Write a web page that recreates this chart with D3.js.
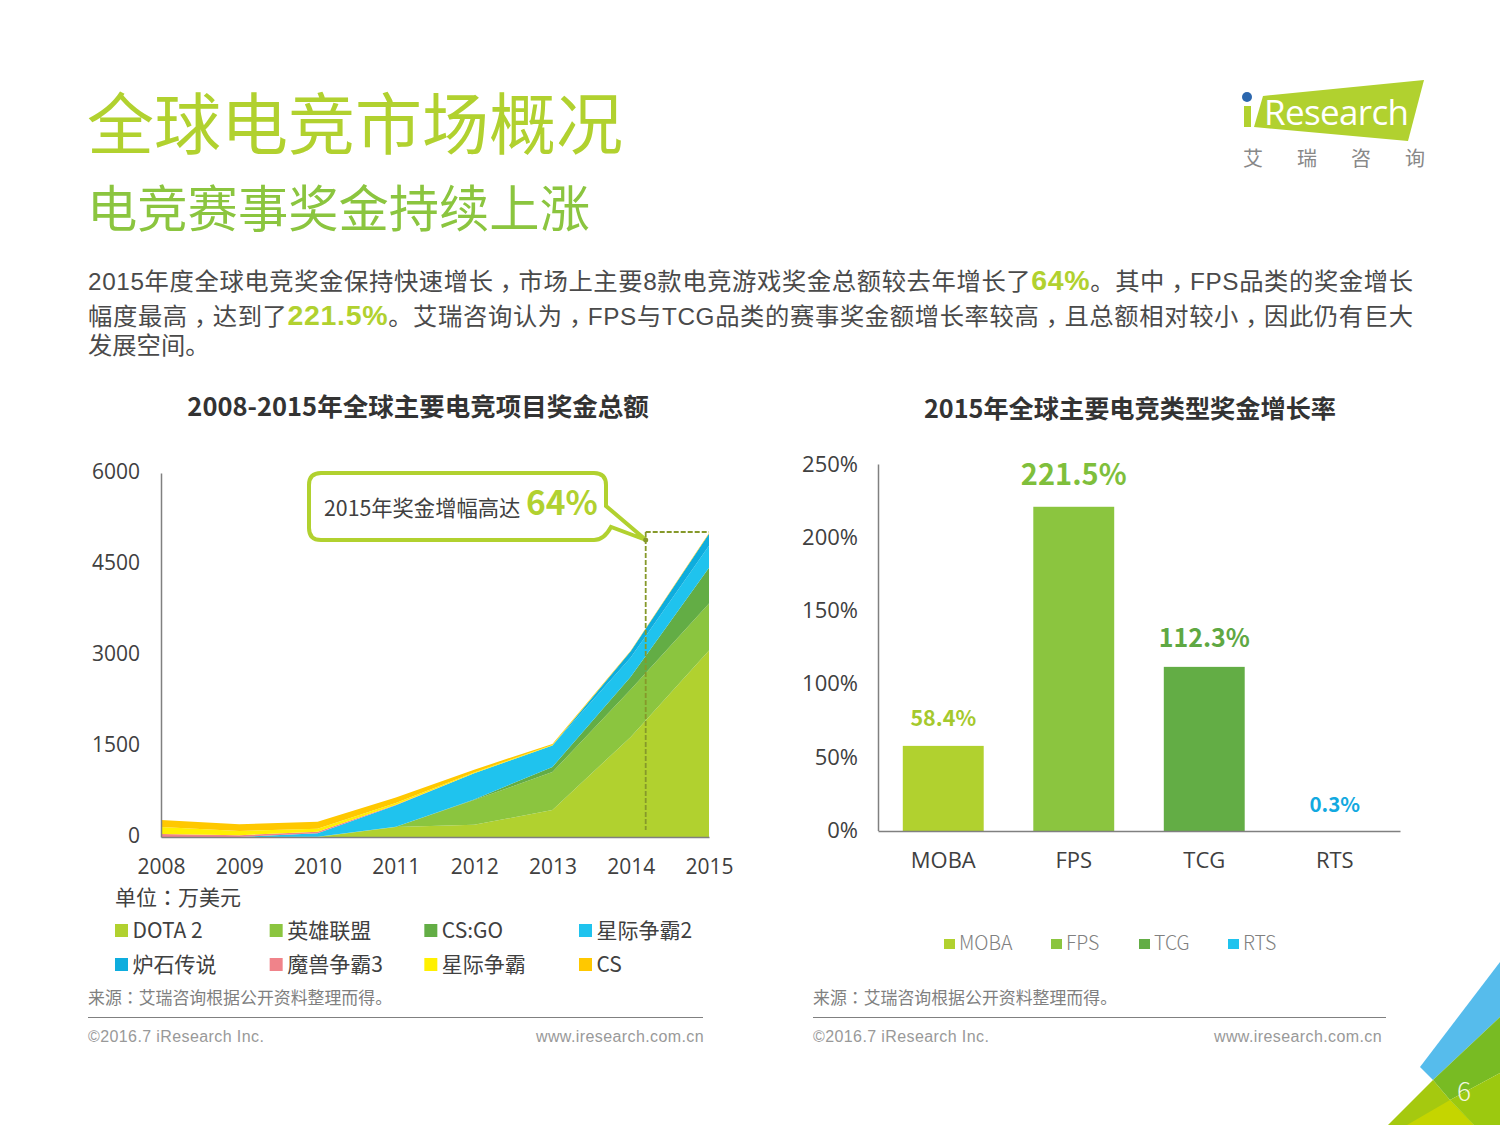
<!DOCTYPE html>
<html lang="zh-CN">
<head>
<meta charset="utf-8">
<script src="https://cdnjs.cloudflare.com/ajax/libs/d3/7.8.5/d3.min.js"></script>
<style>
  html, body { margin: 0; padding: 0; background: #fff; }
  svg { display: block; }
  text { font-family: "Noto Sans CJK SC", "Noto Sans", sans-serif; }
  .latin text, text.latin { font-family: "Open Sans", "Noto Sans CJK SC", sans-serif; }
  text.arial, .arial text { font-family: "Liberation Sans", "Noto Sans CJK SC", sans-serif; }
  tspan.punct { font-family: "Noto Sans CJK TC", sans-serif; font-feature-settings: "locl" 0; }
</style>
</head>
<body>
<script>
// left chart: prize money, 10k USD
const years = [2008, 2009, 2010, 2011, 2012, 2013, 2014, 2015];
const seriesNames = ["DOTA 2", "英雄联盟", "CS:GO", "星际争霸2", "炉石传说", "魔兽争霸3", "星际争霸", "CS"];
const seriesColors = ["#b1d12f", "#8bc53f", "#63ad45", "#1fc3ee", "#0eadde", "#f0838a", "#fff000", "#ffc800"];
const dota2 = [0, 0, 0, 165, 200, 445, 1650, 3075];
const lol = [0, 0, 5, 5, 410, 625, 780, 775];
const csgo = [0, 0, 0, 0, 10, 85, 210, 590];
const sc2 = [0, 0, 55, 355, 430, 355, 320, 360];
const hearthstone = [0, 0, 0, 0, 0, 0, 100, 200];
const wc3 = [50, 30, 25, 5, 0, 0, 0, 0];
const sc = [115, 70, 50, 30, 15, 5, 0, 0];
const cs = [115, 110, 115, 90, 45, 20, 10, 10];
const yTicks = [0, 1500, 3000, 4500, 6000];

// right chart: growth rate by genre
const genres = ["MOBA", "FPS", "TCG", "RTS"];
const growth = [58.4, 221.5, 112.3, 0.3];
const growthLabels = ["58.4%", "221.5%", "112.3%", "0.3%"];
const genreColors = ["#b1d12f", "#8bc53f", "#63ad45", "#1fc3ee"];
const labelColors = ["#a5c92d", "#7fbf3c", "#5fa843", "#12a9e0"];
const growthTicks = [0, 50, 100, 150, 200, 250];

const w = 1500;
const h = 1125;
const green = "#b1d12f";

const svg = d3.select("body").append("svg").attr("width", w).attr("height", h);

function label(x, y, str, size, color, weight, anchor) {
  return svg.append("text")
    .attr("x", x).attr("y", y)
    .attr("font-size", size)
    .attr("fill", color)
    .attr("font-weight", weight || 400)
    .attr("text-anchor", anchor || "start")
    .text(str);
}

// fills a text with tspans, centred comma and colon come from the TC font
// the comma sits a bit lower than the TC glyph, so it is nudged down and back
function punctuate(sel, str) {
  let back = false;
  str.split(/([，：])/).forEach(function (s) {
    if (s === "") return;
    const t = sel.append("tspan").text(s);
    if (back) { t.attr("dy", "-0.3em"); back = false; }
    if (s === "，" || s === "：") t.attr("class", "punct").attr("lang", "zh-TW");
    if (s === "，") { t.attr("dy", "0.3em"); back = true; }
  });
}

// corner decoration, behind everything
svg.append("polygon").attr("points", "1388,1125 1433,1080 1450,1100 1474,1125").attr("fill", "#a5c90f");
svg.append("polygon").attr("points", "1407,1125 1450,1100 1474,1125").attr("fill", "#c5d500");
svg.append("polygon").attr("points", "1420,1067 1500,962 1500,1017 1433,1080").attr("fill", "#56bcec");
svg.append("polygon").attr("points", "1433,1080 1500,1017 1500,1073 1450,1100").attr("fill", "#78bb23");
svg.append("polygon").attr("points", "1450,1100 1500,1073 1500,1125 1474,1125").attr("fill", "#9cc90f");
label(1464, 1101, "6", 26, "#f4f8e0", 300, "middle");

// header
label(87, 149, "全球电竞市场概况", 67, green, 400);
label(87, 227, "电竞赛事奖金持续上涨", 50.3, "#8bc53f", 400);

// logo
svg.append("polygon").attr("points", "1263,96 1424,80 1408,141 1254,127").attr("fill", green);
svg.append("circle").attr("cx", 1247).attr("cy", 97).attr("r", 5).attr("fill", "#2c67ae");
svg.append("polygon").attr("points", "1244,106 1251,106 1251,127 1244,127").attr("fill", green);
svg.append("text").attr("class", "latin").attr("x", 1264).attr("y", 125)
  .attr("font-size", 35).attr("fill", "#fff").attr("textLength", 145).text("Research");
["艾", "瑞", "咨", "询"].forEach(function (c, i) {
  label(1253 + i * 54, 166, c, 20, "#888", 400, "middle");
});

// intro paragraph
const bodyColor = "#4a4a4a";
function bodyLine(y, parts, width) {
  const t = svg.append("text").attr("class", "arial").attr("x", 88).attr("y", y).attr("font-size", 24.3).attr("fill", bodyColor);
  parts.forEach(function (p) {
    if (p.hi) {
      t.append("tspan").text(p.s).attr("fill", green).attr("font-size", 28.5).attr("font-weight", 700);
    } else {
      punctuate(t, p.s);
    }
  });
  if (width) t.attr("textLength", width);
}
bodyLine(290, [{ s: "2015年度全球电竞奖金保持快速增长，市场上主要8款电竞游戏奖金总额较去年增长了" }, { s: "64%", hi: true }, { s: "。其中，FPS品类的奖金增长" }], 1325);
bodyLine(325, [{ s: "幅度最高，达到了" }, { s: "221.5%", hi: true }, { s: "。艾瑞咨询认为，FPS与TCG品类的赛事奖金额增长率较高，且总额相对较小，因此仍有巨大" }], 1325);
bodyLine(354, [{ s: "发展空间。" }]);

// chart titles
label(418, 416, "2008-2015年全球主要电竞项目奖金总额", 25.5, "#333", 700, "middle");
label(1130, 418, "2015年全球主要电竞类型奖金增长率", 25.2, "#333", 700, "middle");

// left area chart
const xScale = d3.scaleLinear().domain([2008, 2015]).range([161, 709]);
const yScale = d3.scaleLinear().domain([0, 6000]).range([837, 473]);

const rows = years.map(function (yr, i) {
  return {
    year: yr,
    "DOTA 2": dota2[i], "英雄联盟": lol[i], "CS:GO": csgo[i], "星际争霸2": sc2[i],
    "炉石传说": hearthstone[i], "魔兽争霸3": wc3[i], "星际争霸": sc[i], "CS": cs[i]
  };
});
const stacked = d3.stack().keys(seriesNames)(rows);
const area = d3.area()
  .x(function (d) { return xScale(d.data.year); })
  .y0(function (d) { return yScale(d[0]); })
  .y1(function (d) { return yScale(d[1]); });

svg.append("g").selectAll("path")
  .data(stacked)
  .enter()
  .append("path")
  .attr("d", area)
  .attr("fill", function (d, i) { return seriesColors[i]; });

const xAxis = d3.axisBottom(xScale).tickValues(years).tickFormat(d3.format("d")).tickSize(0).tickPadding(22);
const yAxis = d3.axisLeft(yScale).tickValues(yTicks).tickFormat(d3.format("d")).tickSize(0).tickPadding(21);
const gx = svg.append("g").attr("class", "latin").attr("transform", "translate(0,837)").call(xAxis);
const gy = svg.append("g").attr("class", "latin").attr("transform", "translate(161,-1.5)").call(yAxis);
[gx, gy].forEach(function (g) {
  g.selectAll("text").attr("font-size", 21).attr("fill", "#404040");
  g.select(".domain").attr("stroke", "#808080").attr("stroke-width", 1.5);
});
gy.select(".domain").attr("transform", "translate(0,1.5)");

// callout and dashed marker
const markX = 645.7;
svg.append("path")
  .attr("d", "M" + markX + ",532V830M" + markX + ",532H" + xScale(2015))
  .attr("fill", "none").attr("stroke", "#86992a").attr("stroke-width", 1.8).attr("stroke-dasharray", "5,2");
svg.append("path")
  .attr("d", "M321,473H594Q606,473 606,485V506L646,540L611,527Q604,540 594,540H321Q309,540 309,528V485Q309,473 321,473Z")
  .attr("fill", "#fff").attr("stroke", green).attr("stroke-width", 4);
svg.append("circle").attr("cx", markX).attr("cy", 540).attr("r", 2.5).attr("fill", "#86992a");
label(324, 516, "2015年奖金增幅高达", 21.3, "#404040", 400);
label(526, 515, "64%", 33.5, green, 700);

// left legend
const unitLabel = label(115, 905, "", 21, "#404040", 400);
punctuate(unitLabel, "单位：万美元");
const legendX = d3.scalePoint().domain([0, 1, 2, 3]).range([115, 579]);
const legendY = d3.scalePoint().domain([0, 1]).range([930, 964]);
const leftLegend = svg.append("g").selectAll("g")
  .data(seriesNames)
  .enter()
  .append("g")
  .attr("transform", function (d, i) { return "translate(" + legendX(i % 4) + "," + legendY(Math.floor(i / 4)) + ")"; });
leftLegend.append("rect").attr("x", 0).attr("y", -6).attr("width", 13).attr("height", 13)
  .attr("fill", function (d, i) { return seriesColors[i]; });
leftLegend.append("text").attr("x", 17.5).attr("y", 8).attr("font-size", 21).attr("fill", "#404040")
  .text(function (d) { return d; });

// right bar chart
const xBand = d3.scaleBand().domain(genres).range([878, 1400]).paddingInner(0.38).paddingOuter(0.19);
const yGrowth = d3.scaleLinear().domain([0, 250]).range([831.5, 465]);

svg.append("g").selectAll("rect")
  .data(growth)
  .enter()
  .append("rect")
  .attr("x", function (d, i) { return xBand(genres[i]); })
  .attr("y", function (d) { return yGrowth(d); })
  .attr("width", xBand.bandwidth())
  .attr("height", function (d) { return yGrowth(0) - yGrowth(d); })
  .attr("fill", function (d, i) { return genreColors[i]; });

const gx2 = svg.append("g").attr("class", "latin").attr("transform", "translate(0,831)")
  .call(d3.axisBottom(xBand).tickSize(0).tickPadding(21));
const gy2 = svg.append("g").attr("class", "latin").attr("transform", "translate(878,-1)")
  .call(d3.axisLeft(yGrowth).tickValues(growthTicks).tickFormat(function (d) { return d + "%"; }).tickSize(0).tickPadding(20));
[gx2, gy2].forEach(function (g) {
  g.selectAll("text").attr("font-size", 22).attr("fill", "#404040");
  g.select(".domain").attr("stroke", "#808080").attr("stroke-width", 1.5);
});

const labelSizes = [21.5, 29, 25, 20.5];
svg.append("g").selectAll("text")
  .data(growthLabels)
  .enter()
  .append("text")
  .attr("x", function (d, i) { return xBand(genres[i]) + xBand.bandwidth() / 2; })
  .attr("y", function (d, i) { return yGrowth(growth[i]) - (i === 1 ? 22 : i === 3 ? 19 : 20); })
  .attr("text-anchor", "middle")
  .attr("font-size", function (d, i) { return labelSizes[i]; })
  .attr("font-weight", 700)
  .attr("fill", function (d, i) { return labelColors[i]; })
  .text(function (d) { return d; });

// right legend
const rightLegendX = [944, 1051, 1139, 1228];
const rightLegend = svg.append("g").selectAll("g")
  .data(genres)
  .enter()
  .append("g")
  .attr("transform", function (d, i) { return "translate(" + rightLegendX[i] + ",944)"; });
rightLegend.append("rect").attr("x", 0).attr("y", -5).attr("width", 11).attr("height", 10)
  .attr("fill", function (d, i) { return genreColors[i]; });
rightLegend.append("text").attr("x", 15).attr("y", 6).attr("font-size", 19.5).attr("fill", "#808080").attr("font-weight", 300)
  .text(function (d) { return d; });

// footers
function footer(x, x2, right, lineEnd) {
  const src = label(x, 1004, "", 16.9, "#808080", 400);
  punctuate(src, "来源：艾瑞咨询根据公开资料整理而得。");
  svg.append("line").attr("x1", x).attr("x2", lineEnd).attr("y1", 1017.5).attr("y2", 1017.5).attr("stroke", "#808080").attr("stroke-width", 1);
  label(x, 1042, "©2016.7 iResearch Inc.", 16, "#999", 400).attr("class", "arial").attr("letter-spacing", 0.4);
  label(x2, 1042, right, 16, "#999", 400, "end").attr("class", "arial").attr("letter-spacing", 0.4);
}
footer(88, 704, "www.iresearch.com.cn", 703);
footer(813, 1382, "www.iresearch.com.cn", 1386);
</script>
</body>
</html>
